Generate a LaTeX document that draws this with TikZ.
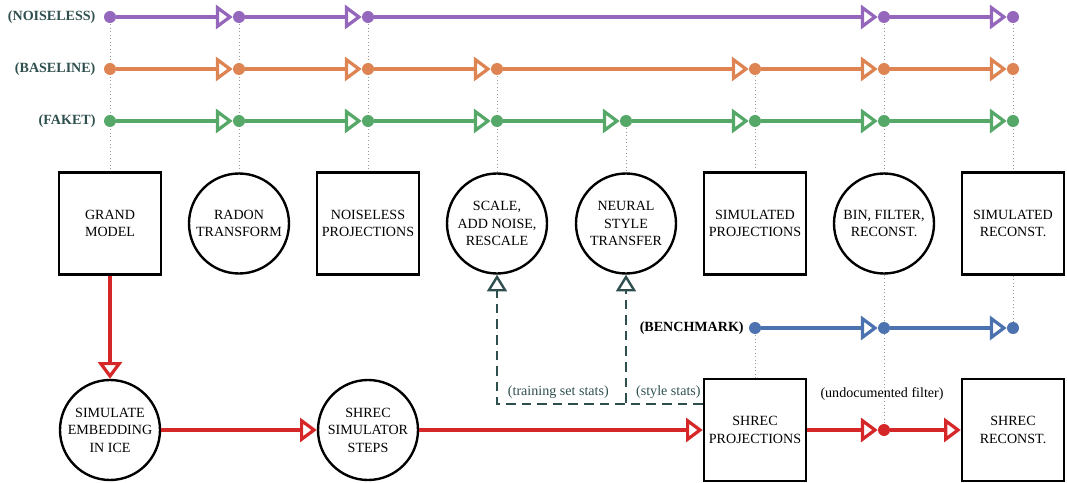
\documentclass[tikz,border=0pt]{standalone}
\usepackage{fontspec}
\setmainfont{Liberation Serif}
\usepackage{tikz}
\usetikzlibrary{arrows.meta, positioning, backgrounds}
\definecolor{noisec}{HTML}{9467BD}
\definecolor{basec}{HTML}{DD8452}
\definecolor{faketc}{HTML}{55A868}
\definecolor{benchc}{HTML}{4C72B0}
\definecolor{shrecc}{HTML}{D62728}
\definecolor{slate}{HTML}{2F4F4F}
\tikzset{
  sq/.style={draw=black, line width=1.7pt, minimum size=2.55cm, inner sep=0pt, align=center,
    font=\fontsize{10}{12.4}\selectfont},
  rnd/.style={circle, draw=black, line width=1.7pt, minimum size=2.5cm, inner sep=0pt, align=center,
    font=\fontsize{10}{12.4}\selectfont},
  jdot/.style={circle, fill=#1, inner sep=0pt, minimum size=0.3cm},
  link/.style={draw=#1, line width=2.3pt, -{Triangle[open, length=0.42cm, width=0.6cm]}},
  guide/.style={draw=gray!80, dotted, line width=0.5pt},
  stats/.style={draw=slate, line width=1.7pt, dash pattern=on 0.24cm off 0.15cm,
    -{Triangle[open, length=0.42cm, width=0.5cm]}},
  rowlbl/.style={font=\fontsize{10}{12}\selectfont\bfseries, text=slate, inner sep=0pt},
  note/.style={font=\fontsize{10}{12}\selectfont, anchor=base west}
}
\begin{document}
\begin{tikzpicture}
\useasboundingbox (0,0) rectangle (26.675,-12.075);
% stages
\node[sq] (gm) at (2.75,-5.5875) {GRAND\\MODEL};
\node[rnd] (rt) at (5.975,-5.5875) {RADON\\TRANSFORM};
\node[sq] (np) at (9.2,-5.5875) {NOISELESS\\PROJECTIONS};
\node[rnd] (sc) at (12.425,-5.5875) {SCALE,\\ADD NOISE,\\RESCALE};
\node[rnd] (nst) at (15.65,-5.5875) {NEURAL\\STYLE\\TRANSFER};
\node[sq] (sp) at (18.875,-5.5875) {SIMULATED\\PROJECTIONS};
\node[rnd] (bfr) at (22.1,-5.5875) {BIN, FILTER,\\RECONST.};
\node[sq] (sr) at (25.325,-5.5875) {SIMULATED\\RECONST.};
\node[rnd] (emb) at (2.75,-10.75) {SIMULATE\\EMBEDDING\\IN ICE};
\node[rnd] (sss) at (9.2,-10.75) {SHREC\\SIMULATOR\\STEPS};
\node[sq] (shp) at (18.875,-10.75) {SHREC\\PROJECTIONS};
\node[sq] (shr) at (25.325,-10.75) {SHREC\\RECONST.};
% pipelines
\node[jdot=noisec] (n1) at (2.75,-0.425) {}; \node[jdot=noisec] (n2) at (5.975,-0.425) {};
\node[jdot=noisec] (n3) at (9.2,-0.425) {}; \node[jdot=noisec] (n7) at (22.1,-0.425) {};
\node[jdot=noisec] (n8) at (25.325,-0.425) {};
\node[jdot=basec] (b1) at (2.75,-1.725) {}; \node[jdot=basec] (b2) at (5.975,-1.725) {};
\node[jdot=basec] (b3) at (9.2,-1.725) {}; \node[jdot=basec] (b4) at (12.425,-1.725) {};
\node[jdot=basec] (b6) at (18.875,-1.725) {}; \node[jdot=basec] (b7) at (22.1,-1.725) {};
\node[jdot=basec] (b8) at (25.325,-1.725) {};
\node[jdot=faketc] (f1) at (2.75,-3.025) {}; \node[jdot=faketc] (f2) at (5.975,-3.025) {};
\node[jdot=faketc] (f3) at (9.2,-3.025) {}; \node[jdot=faketc] (f4) at (12.425,-3.025) {};
\node[jdot=faketc] (f5) at (15.65,-3.025) {}; \node[jdot=faketc] (f6) at (18.875,-3.025) {};
\node[jdot=faketc] (f7) at (22.1,-3.025) {}; \node[jdot=faketc] (f8) at (25.325,-3.025) {};
\node[jdot=benchc] (k6) at (18.875,-8.2) {}; \node[jdot=benchc] (k7) at (22.1,-8.2) {};
\node[jdot=benchc] (k8) at (25.325,-8.2) {};
\node[jdot=shrecc] (r7) at (22.1,-10.75) {};
\node[rowlbl, left=0.2cm of n1] {(NOISELESS)};
\node[rowlbl, left=0.2cm of b1] {(BASELINE)};
\node[rowlbl, left=0.2cm of f1] {(FAKET)};
\node[rowlbl, text=black, left=0.12cm of k6] {(BENCHMARK)};
\draw[link=noisec] (n1)--(n2); \draw[link=noisec] (n2)--(n3);
\draw[link=noisec] (n3)--(n7); \draw[link=noisec] (n7)--(n8);
\draw[link=basec] (b1)--(b2); \draw[link=basec] (b2)--(b3); \draw[link=basec] (b3)--(b4);
\draw[link=basec] (b4)--(b6); \draw[link=basec] (b6)--(b7); \draw[link=basec] (b7)--(b8);
\draw[link=faketc] (f1)--(f2); \draw[link=faketc] (f2)--(f3); \draw[link=faketc] (f3)--(f4);
\draw[link=faketc] (f4)--(f5); \draw[link=faketc] (f5)--(f6); \draw[link=faketc] (f6)--(f7);
\draw[link=faketc] (f7)--(f8);
\draw[link=benchc] (k6)--(k7); \draw[link=benchc] (k7)--(k8);
\draw[link=shrecc] (gm)--(emb); \draw[link=shrecc] (emb)--(sss); \draw[link=shrecc] (sss)--(shp);
\draw[link=shrecc] (shp)--(r7); \draw[link=shrecc] (r7)--(shr);
% stats feedback
\draw[stats] ([yshift=0.65cm]shp.west) -| (sc.south);
\draw[stats] ([yshift=0.65cm]shp.west) -| (nst.south);
\node[note, text=slate] at (12.575,-9.875) {(training set stats)};
\node[note, text=slate] at (15.78,-9.875) {(style stats)};
\node[note, anchor=base] at (22.05,-9.925) {(undocumented filter)};
% stage guides
\begin{scope}[on background layer]
\draw[guide] (n1.center)--(gm.north); \draw[guide] (n2.center)--(rt.north);
\draw[guide] (n3.center)--(np.north); \draw[guide] (b4.center)--(sc.north);
\draw[guide] (f5.center)--(nst.north); \draw[guide] (b6.center)--(sp.north);
\draw[guide] (n7.center)--(bfr.north); \draw[guide] (n8.center)--(sr.north);
\draw[guide] (k6.center)--(shp.north); \draw[guide] (bfr.south)--(r7.center);
\draw[guide] (sr.south)--(k8.center);
\end{scope}
\end{tikzpicture}
\end{document}
